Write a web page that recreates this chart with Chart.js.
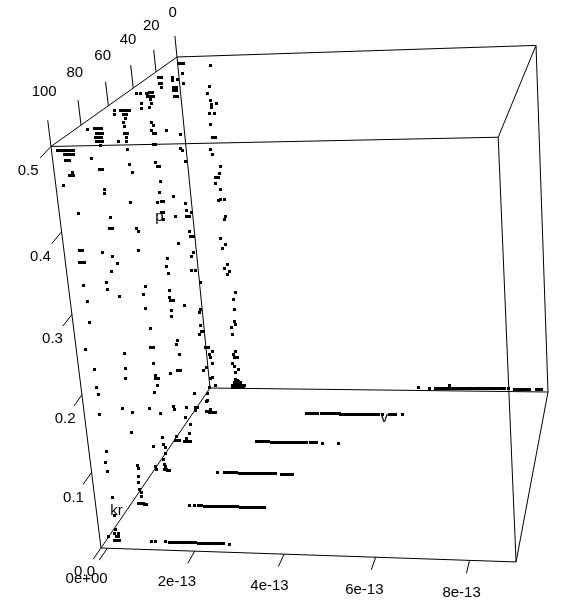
<!DOCTYPE html>
<html>
<head>
<meta charset="utf-8">
<title>v kr p</title>
<script src="https://cdn.jsdelivr.net/npm/chart.js@4"></script>
<style>
  html, body { margin: 0; padding: 0; background: #fff; }
  #wrap { width: 564px; height: 610px; }
</style>
</head>
<body>
<div id="wrap"><canvas id="cloud" width="564" height="610"></canvas></div>
<script>
// v is in units of 1e-13, each pair below is [v, p]
const krLevels = [0, 20, 40, 60, 80, 100];

const columnKr0 = [[-0.10,0.49],[-0.04,0.49],[0.01,0.49],[-0.04,0.476],[-0.04,0.462],[0.71,0.487],[0.65,0.457],[0.58,0.447],
  [0.62,0.437],[0.78,0.4325],[0.66,0.431],[0.63,0.427],[0.56,0.4185],[0.70,0.4185],[0.58,0.402],[0.58,0.383],[0.66,0.383],
  [0.51,0.365],[0.56,0.359],[0.72,0.34],[0.70,0.33],[0.56,0.325],[0.64,0.325],[0.56,0.315],[0.66,0.306],[0.58,0.291],
  [0.66,0.291],[0.75,0.291],[0.73,0.2665],[0.70,0.262],[0.56,0.2325],[0.68,0.2235],[0.59,0.2175],[0.66,0.194],[0.57,0.188],
  [0.70,0.1835],[0.66,0.179],[0.81,0.15],[0.74,0.1405],[0.74,0.1245],[0.71,0.105],[0.75,0.1015],[0.61,0.097],[0.62,0.086],
  [0.68,0.058],[0.59,0.0535],[0.61,0.049],[0.70,0.049],[0.54,0.039],[0.61,0.035],[0.69,0.03],[0.60,0.0255],
  [0.58,0.0133],[0.64,0.0133],[0.56,0.009],[0.64,0.009],[0.72,0.009],[0.50,0.004],[0.58,0.004],[0.67,0.004],[0.75,0.004],
  [0.84,0.004],[6.41,0.008],[0.50,0.002],[0.56,0.002],[0.62,0.002],[0.68,0.002],[0.74,0.002],[0.80,0.002],[0.54,0.006],
  [0.60,0.006],[0.66,0.006],[0.72,0.006],[0.60,0.011],[0.66,0.011]];

const columnKr20 = [[0.26,0.492],[0.25,0.4875],[0.38,0.4885],[-0.09,0.492],[-0.03,0.492],[-0.08,0.4835],[-0.03,0.4835],
  [-0.04,0.478],[0.25,0.478],[0.33,0.478],[0.25,0.474],[0.33,0.474],[0.29,0.476],[0.26,0.465],[0.34,0.465],[-0.04,0.419],[0.32,0.4135],
  [0.28,0.394],[0.33,0.39],[0.38,0.3745],[-0.03,0.326],[0.27,0.316],[0.28,0.306],[0.41,0.302],[0.27,0.297],[0.35,0.297],
  [-0.03,0.2965],[-0.02,0.258],[0.30,0.2745],[0.32,0.2685],[0.40,0.2685],[0.35,0.245],[0.29,0.2385],[0.26,0.219],[0.35,0.219],
  [0.44,0.20],[-0.03,0.1665],[0.37,0.16],[0.34,0.156],[0.33,0.1375],[0.34,0.1285],[0.41,0.1285],[0.30,0.124],[0.40,0.103],
  [0.48,0.103],[0.58,0.097],[0.49,0.0925],[0.51,0.088],[0.55,0.0795],[0.40,0.074],[0.31,0.0695],[0.51,0.0585],[0.46,0.057],
  [0.41,0.0435],[0.57,0.046],[-0.01,0.034],[0.34,0.034],[0.32,0.0235],[0.29,0.021],[-0.02,0.0115],[0.03,0.0115],[-0.02,0.0075],
  [0.26,0.005],[0.34,0.005],[0.42,0.005],[0.50,0.005],[0.37,0.0095],[0.39,0.0095],[0.30,0.005],[0.38,0.005],[0.46,0.005]];

const columnKr40 = [[-0.07,0.493],[0.01,0.493],[0.16,0.493],[0.20,0.493],[0.24,0.493],[0.28,0.493],[0.32,0.493],[0.18,0.488],[0.215,0.488],[0.25,0.488],[0.29,0.488],[0.33,0.488],
  [0.25,0.484],[0.26,0.479],[0.01,0.479],[0.0,0.4735],[0.20,0.4735],[0.21,0.4535],[0.26,0.4495],[0.19,0.444],[0.23,0.439],
  [0.28,0.439],[0.20,0.4245],[0.25,0.4245],[0.21,0.40],[0.25,0.3955],[0.30,0.3955],[0.29,0.3755],[0.24,0.3605],[0.16,0.347],
  [0.26,0.347],[0.31,0.347],[0.23,0.332],[0.28,0.332],[0.26,0.323],[0.26,0.269],[0.22,0.258],[0.25,0.248],[0.21,0.2245],
  [0.21,0.2145],[0.23,0.2105],[0.30,0.2105],[0.23,0.196],[0.21,0.1865],[0.28,0.152],[0.25,0.1475],[0.30,0.133],[0.20,0.109],
  [0.28,0.109],[0.02,0.105],[0.0,0.0556],[0.02,0.0512],[0.33,0.0556],[0.28,0.0407],[0.39,0.0305],[0.34,0.0172],[0.0,0.0112],
  [-0.03,0.005],[0.02,0.005],[0.07,0.005],[0.26,0.0095],[0.20,0.005],[0.27,0.005],[0.35,0.005],[0.24,0.005],[0.31,0.005]];

const columnKr60 = [[-0.02,0.494],[-0.03,0.489],[0.12,0.494],[0.155,0.494],[0.19,0.494],[0.225,0.494],[0.26,0.494],[0.30,0.494],[0.34,0.494],[0.19,0.489],[0.26,0.489],
  [0.22,0.484],[0.17,0.479],[0.18,0.473],[0.0,0.4545],[0.16,0.4645],[0.23,0.4645],[0.20,0.459],[0.19,0.4545],[0.19,0.444],
  [0.20,0.425],[0.25,0.415],[0.13,0.376],[0.20,0.342],[0.25,0.338],[0.20,0.313],[0.27,0.265],[0.20,0.254],[0.21,0.235],
  [0.26,0.207],[0.23,0.182],[0.30,0.182],[0.24,0.159],[0.26,0.143],[0.26,0.139],[0.33,0.139],[0.28,0.1295],[0.19,0.1195],
  [0.03,0.0965],[0.28,0.09],[0.27,0.056],[0.27,0.046],[0.31,0.042],[0.03,0.042],[0.29,0.032],[0.23,0.0235],[0.24,0.0165],
  [0.02,0.014],[0.04,0.009],[0.27,0.014],[0.22,0.009],[0.27,0.009],[0.35,0.009],[0.25,0.012],[0.31,0.009]];

const columnKr80 = [[0.0,0.495],[0.15,0.495],[0.22,0.495],[0.26,0.495],[0.31,0.495],[0.18,0.4895],[0.23,0.4895],[0.27,0.4895],[0.31,0.4895],[0.15,0.4845],
  [0.22,0.4845],[0.26,0.4845],[0.29,0.4845],[0.16,0.4795],[0.23,0.4795],[0.27,0.4795],[0.30,0.4795],[0.25,0.475],[0.0,0.459],[0.16,0.446],[0.23,0.446],
  [0.22,0.4215],[0.21,0.4165],[0.29,0.387],[0.22,0.373],[0.29,0.373],[0.0,0.343],[0.23,0.338],[0.31,0.329],[0.17,0.319],
  [0.02,0.305],[0.02,0.295],[0.27,0.286],[0.23,0.212],[0.22,0.193],[0.19,0.179],[0.04,0.14],[0.27,0.135],[0.19,0.107],
  [0.25,0.063],[0.26,0.058],[0.24,0.048],[0.22,0.0385],[0.23,0.029],[0.27,0.025],[0.26,0.0195],[0.17,0.0095],[0.24,0.0095],
  [0.31,0.0095],[0.35,0.0095],[0.20,0.0095],[0.28,0.0095]];

const columnKr100 = [[-0.02,0.495],[0.03,0.495],[0.07,0.495],[0.12,0.495],[0.16,0.495],[0.21,0.495],[0.25,0.495],[0.28,0.495],[0.32,0.495],[0.13,0.49],[0.18,0.49],[0.22,0.49],[0.27,0.49],[0.31,0.49],
  [0.13,0.484],[0.18,0.484],[0.22,0.484],[0.24,0.47],[0.17,0.466],[0.23,0.466],[0.26,0.466],[0.02,0.455],[0.27,0.4217],[0.19,0.378],[0.26,0.378],
  [0.16,0.3636],[0.20,0.3636],[0.27,0.3636],[0.18,0.335],[0.23,0.3156],[0.22,0.2907],[0.06,0.257],[0.21,0.2324],[0.20,0.209],
  [0.23,0.20],[0.20,0.175],[0.26,0.1275],[0.21,0.113],[0.23,0.102],[0.27,0.068],[0.27,0.044],[0.25,0.0255],[0.07,0.016],
  [0.22,0.02],[0.29,0.02],[0.25,0.016],[0.30,0.016],[0.20,0.011],[0.27,0.011],[0.31,0.011]];

// long rows of points lying close to the floor, p is nearly constant per row
const floorP = [0.004, 0.005, 0.006, 0.007, 0.009, 0.011];
const floorKr0 = [5.59,5.88,6.04,6.08,6.12,6.20,6.24,6.28,6.36,6.40,6.44,6.51,6.55,6.59,6.67,6.71,6.75,6.83,6.87,6.91,6.99,7.03,7.07,7.15,7.19,7.22,7.31,7.35,7.39,7.47,
  7.51,7.55,7.63,7.67,7.71,7.78,7.82,7.86,7.94,8.12,8.16,8.20,8.28,8.32,8.36,8.44,8.51,8.69,8.72,8.77,8.82];
const floorKr20 = [2.93,3.01,3.05,3.09,3.16,3.20,3.24,3.32,3.36,3.40,3.48,3.52,3.56,3.64,3.68,3.72,3.80,3.84,3.88,3.96,4.00,4.04,4.12,4.16,4.20,4.28,4.31,4.34,4.42,4.46,4.50,
  4.58,4.62,4.66,4.73,4.77,4.81,4.91,5.09,5.17,5.25,5.43];
const floorKr40 = [2.05,2.13,2.20,2.28,2.36,2.43,2.47,2.51,2.58,2.62,2.66,2.73,2.77,2.81,2.88,2.92,2.96,3.03,3.07,3.11,3.18,3.22,3.26,3.33,3.44,3.48,3.51,3.59,
  3.74,4.13];
const floorKr60 = [1.55,1.72,1.79,1.83,1.87,1.94,1.98,2.01,2.09,2.12,2.16,2.24,2.27,2.31,2.38,2.42,2.45,2.53,2.56,2.60,2.67,2.71,2.75,2.82,2.86,2.89,2.97,3.11,3.15,3.19,
  3.26,3.33,3.38];
const floorKr80 = [1.38,1.50,1.59,1.62,1.66,1.73,1.77,1.81,1.88,1.92,1.95,2.02,2.06,2.09,2.16,2.20,2.23,2.30,2.34,2.37,2.44,2.48,2.52,2.59,2.62,2.65,2.72,2.76,2.79,2.86,
  2.90,2.93,3.00,3.04,3.07,3.14];
const floorKr100 = [1.03,1.14,1.37,1.44,1.47,1.50,1.57,1.60,1.64,1.71,1.74,1.78,1.84,1.88,1.91,1.98,2.01,2.05,2.11,2.15,2.18,2.25,2.28,2.32,2.35,2.39,2.43,2.46,2.50,2.52,2.56,2.59,
  2.63,2.66,2.80];

const vTicks = [0, 2, 4, 6, 8];
const vTickLabels = ['0e+00', '2e-13', '4e-13', '6e-13', '8e-13'];
const krTicks = [0, 20, 40, 60, 80, 100];
const pTicks = [0, 0.1, 0.2, 0.3, 0.4, 0.5];
const pTickLabels = ['0.0', '0.1', '0.2', '0.3', '0.4', '0.5'];

const vRange = [-0.146, 8.974];
const krRange = [0, 100];
const pRange = [0, 0.5];

// perspective camera, written as the image of the box origin and of its three far axis ends
const cam = {
  o: [210, 388, 1],
  v: [548 * 0.957, 392 * 0.957, 0.957],
  kr: [101 * 0.811, 548 * 0.811, 0.811],
  p: [177 * 0.94, 57 * 0.94, 0.94]
};

// the p labels sit a bit off the projected position, in pixels
const pLabelNudge = [[3, -5], [2, -1], [4, 0], [2, 3], [1, 6], [0, 8]];

function project(v, kr, p) {
  const a = (v - vRange[0]) / (vRange[1] - vRange[0]);
  const b = (kr - krRange[0]) / (krRange[1] - krRange[0]);
  const c = (p - pRange[0]) / (pRange[1] - pRange[0]);
  const h = [0, 1, 2].map(i =>
    cam.o[i] + a * (cam.v[i] - cam.o[i]) + b * (cam.kr[i] - cam.o[i]) + c * (cam.p[i] - cam.o[i]));
  return { x: h[0] / h[2], y: h[1] / h[2] };
}

function snapped(v, kr, p) {
  const pt = project(v, kr, p);
  return { x: Math.floor(pt.x) + 0.5, y: Math.floor(pt.y) + 0.5 };
}

function pLabelPos(i) {
  const pos = project(vRange[0], 114, pTicks[i]);
  return { x: pos.x + pLabelNudge[i][0], y: pos.y + pLabelNudge[i][1] };
}

function cloudPoints() {
  const columns = [columnKr0, columnKr20, columnKr40, columnKr60, columnKr80, columnKr100];
  const floors = [floorKr0, floorKr20, floorKr40, floorKr60, floorKr80, floorKr100];
  const pts = [];
  krLevels.forEach((kr, i) => {
    columns[i].forEach(d => pts.push(snapped(d[0], kr, d[1])));
    floors[i].forEach(v => pts.push(snapped(v, kr, floorP[i])));
  });
  return pts;
}

function boxLines() {
  const [v0, v1] = vRange, [k0, k1] = krRange, [p0, p1] = pRange;
  const edges = [
    [[v0,k0,p0],[v1,k0,p0]], [[v1,k0,p0],[v1,k1,p0]], [[v1,k1,p0],[v0,k1,p0]], [[v0,k1,p0],[v0,k0,p0]],
    [[v0,k0,p1],[v1,k0,p1]], [[v1,k0,p1],[v1,k1,p1]], [[v1,k1,p1],[v0,k1,p1]], [[v0,k1,p1],[v0,k0,p1]],
    [[v0,k0,p0],[v0,k0,p1]], [[v1,k0,p0],[v1,k0,p1]], [[v1,k1,p0],[v1,k1,p1]], [[v0,k1,p0],[v0,k1,p1]]
  ];
  vTicks.forEach(t => edges.push([[t,k1,p0],[t,k1 + 6,p0]]));
  krTicks.forEach(t => edges.push([[v0,t,p1],[v0,t,p1 * 1.06]]));

  const pts = [];
  edges.forEach(e => {
    pts.push(project(...e[0]), project(...e[1]), { x: null, y: null });
  });
  // p ticks point at their labels
  pTicks.forEach((t, i) => {
    const s = project(v0, k1, t), l = pLabelPos(i);
    pts.push(s, { x: s.x + 0.47 * (l.x - s.x), y: s.y + 0.47 * (l.y - s.y) }, { x: null, y: null });
  });
  return pts;
}

function textItems() {
  const items = [];
  vTicks.forEach((t, i) => items.push({ s: vTickLabels[i], pos: project(t, 115, 0) }));
  krTicks.forEach(t => items.push({ s: String(t), pos: project(vRange[0], t, pRange[1] * 1.125) }));
  pTicks.forEach((t, i) => items.push({ s: pTickLabels[i], pos: pLabelPos(i) }));
  items.push({ s: 'v', pos: project(4.96, 20, 0) });
  items.push({ s: 'kr', pos: project(vRange[0], 87, 0.017) });
  items.push({ s: 'p', pos: project(vRange[0], 30, 0.311) });
  return items;
}

const axisText = {
  id: 'axisText',
  afterDatasetsDraw(chart) {
    const { ctx, scales } = chart;
    ctx.save();
    ctx.fillStyle = '#000';
    ctx.font = '15px "Liberation Sans", Arial, sans-serif';
    ctx.textAlign = 'center';
    ctx.textBaseline = 'middle';
    textItems().forEach(item => {
      ctx.fillText(item.s, scales.x.getPixelForValue(item.pos.x), scales.y.getPixelForValue(item.pos.y));
    });
    ctx.restore();
  }
};

new Chart(document.getElementById('cloud').getContext('2d'), {
  type: 'scatter',
  data: {
    datasets: [
      {
        label: 'box',
        data: boxLines(),
        showLine: true,
        spanGaps: false,
        borderColor: '#000',
        borderWidth: 1,
        pointRadius: 0
      },
      {
        label: 'cloud',
        data: cloudPoints(),
        pointStyle: 'rect',
        pointRadius: 2.125,
        pointBorderWidth: 0,
        backgroundColor: '#000'
      }
    ]
  },
  options: {
    responsive: false,
    animation: false,
    layout: { padding: 0, autoPadding: false },
    scales: {
      x: { type: 'linear', display: false, min: 0, max: 564 },
      y: { type: 'linear', display: false, min: 0, max: 610, reverse: true }
    },
    plugins: { legend: { display: false }, tooltip: { enabled: false } }
  },
  plugins: [axisText]
});
</script>
</body>
</html>
